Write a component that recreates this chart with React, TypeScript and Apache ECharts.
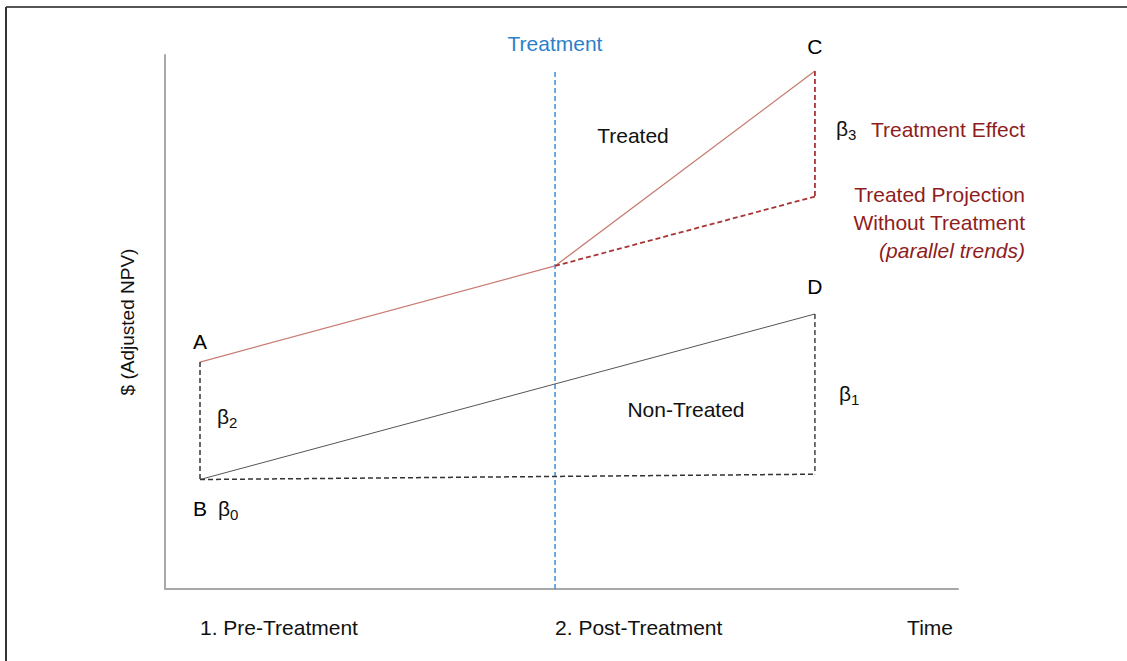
import React, { useEffect, useRef } from "react";
import * as echarts from "echarts";

// ---- data ----
const xTickValues = [1, 2];
const xTickLabels = ["1. Pre-Treatment", "2. Post-Treatment"];
const xAxisName = "Time";
const yAxisName = "$ (Adjusted NPV)";
const treatmentTime = 2;
const endTime = 2.732;

const treatedLine = [[1, 4.25], [2, 6.05], [endTime, 9.7]];
const treatedProjection = [[2, 6.05], [endTime, 7.35]];
const treatmentEffect = [[endTime, 9.7], [endTime, 7.35]];
const nonTreatedLine = [[1, 2.05], [endTime, 5.15]];
const baseline = [[1, 2.05], [endTime, 2.15]];
const preGap = [[1, 4.25], [1, 2.05]];
const postGap = [[endTime, 5.15], [endTime, 2.15]];
const treatmentMarker = [[treatmentTime, 0], [treatmentTime, 9.68]];

const pointNames = ["A", "B", "C", "D"];
const pointValues = [[1, 4.25], [1, 2.05], [endTime, 9.7], [endTime, 5.15]];
const pointLabelPos = ["top", "bottom", "top", "top"];
const pointLabelDist = [10, 18, 14, 16];

const FONT = '"Liberation Sans", Arial, sans-serif';
const FS = 21;
const DARKRED = "#8f1d1d";
const BLUE = "#2d7fca";
const TXT = "#111111";

export default function App() {
  const ref = useRef<HTMLDivElement>(null);
  useEffect(() => {
    const chart = echarts.init(ref.current!, null, { renderer: "svg" });
    const lineS = (name: string, data: number[][], color: string, width: number, dashed: boolean) => ({
      name,
      type: "line",
      data,
      symbol: "none",
      silent: true,
      lineStyle: { color, width, type: dashed ? [5, 3] : "solid" },
      z: 3,
    });
    const txt = (text: string, x: number, y: number, opts: any = {}) => ({
      type: "text",
      style: {
        text,
        x,
        y,
        fill: opts.fill || TXT,
        font: `${opts.italic ? "italic " : ""}${opts.size || FS}px ${FONT}`,
        textAlign: opts.align || "center",
        textVerticalAlign: "middle",
      },
    });
    const beta = (sub: string, x: number, y: number) => [
      txt("β", x, y, { align: "left", size: 21 }),
      txt(sub, x + 12, y + 6, { align: "left", size: 15 }),
    ];
    chart.setOption({
      animation: false,
      backgroundColor: "#ffffff",
      grid: { left: 165, right: 169, top: 55, bottom: 72 },
      xAxis: {
        type: "value",
        min: 0.9014,
        max: 3.135,
        name: xAxisName,
        nameLocation: "end",
        nameGap: -5,
        nameTextStyle: {
          fontFamily: FONT,
          fontSize: FS,
          color: TXT,
          align: "right",
          verticalAlign: "top",
          padding: [28, 0, 0, 0],
        },
        axisLine: { show: true, lineStyle: { color: "#a8a8a8", width: 2 } },
        axisTick: { show: false },
        splitLine: { show: false },
        axisLabel: {
          customValues: xTickValues,
          formatter: (v: number) => xTickLabels[xTickValues.indexOf(v)] ?? "",
          fontFamily: FONT,
          fontSize: FS,
          color: TXT,
          align: "left",
          margin: 28,
        },
      },
      yAxis: {
        type: "value",
        min: 0,
        max: 10,
        name: yAxisName,
        nameLocation: "middle",
        nameGap: 28,
        nameTextStyle: { fontFamily: FONT, fontSize: 19, color: TXT },
        axisLine: { show: true, lineStyle: { color: "#a8a8a8", width: 2 } },
        axisTick: { show: false },
        axisLabel: { show: false },
        splitLine: { show: false },
      },
      series: [
        lineS("Treatment", treatmentMarker, "#3a8dd8", 1.5, true),
        lineS("Treated", treatedLine, "#c97b72", 1.3, false),
        lineS("Treated Projection", treatedProjection, "#a83535", 1.8, true),
        lineS("Treatment Effect", treatmentEffect, "#a83535", 1.8, true),
        lineS("Non-Treated", nonTreatedLine, "#555555", 1, false),
        lineS("Baseline", baseline, "#333333", 1.5, true),
        lineS("Pre Gap", preGap, "#333333", 1.5, true),
        lineS("Post Gap", postGap, "#444444", 1.5, true),
        {
          name: "Points",
          type: "scatter",
          symbolSize: 1,
          itemStyle: { color: "rgba(255,255,255,0)" },
          silent: true,
          data: pointNames.map((n, i) => ({
            name: n,
            value: pointValues[i],
            label: {
              show: true,
              formatter: "{b}",
              position: pointLabelPos[i],
              distance: pointLabelDist[i],
              fontFamily: FONT,
              fontSize: FS,
              color: "#000000",
              opacity: 1,
            },
          })),
          z: 5,
        },
      ],
      graphic: [
        { type: "line", shape: { x1: 6, y1: 7, x2: 1127, y2: 7 }, style: { stroke: "#555", lineWidth: 2 } },
        { type: "line", shape: { x1: 6, y1: 7, x2: 6, y2: 661 }, style: { stroke: "#333", lineWidth: 2 } },
        txt("Treatment", 555, 43, { fill: BLUE }),
        txt("Treated", 633, 135),
        txt("Non-Treated", 686, 409),
        ...beta("3", 836, 128),
        txt("Treatment Effect", 1025, 129, { fill: DARKRED, align: "right" }),
        txt("Treated Projection", 1025, 194, { fill: DARKRED, align: "right" }),
        txt("Without Treatment", 1025, 222, { fill: DARKRED, align: "right" }),
        txt("(parallel trends)", 1025, 250, { fill: DARKRED, align: "right", italic: true }),
        ...beta("1", 839, 393),
        ...beta("2", 217, 416),
        ...beta("0", 218, 508),
      ],
    });
    return () => chart.dispose();
  }, []);
  return (
    <div
      ref={ref}
      style={{ position: "fixed", left: 0, top: 0, width: 1127, height: 661, background: "#fff" }}
    />
  );
}
